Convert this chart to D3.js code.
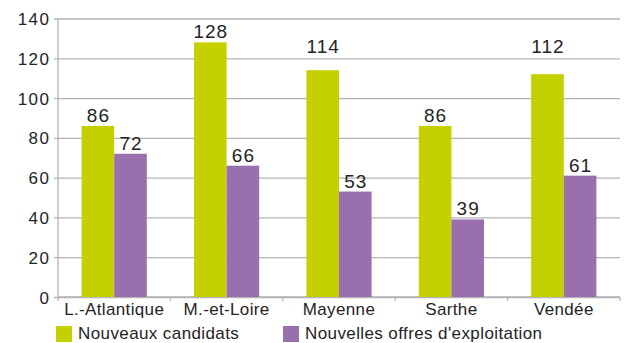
<!DOCTYPE html>
<html>
<head>
<meta charset="utf-8">
<script src="https://cdn.jsdelivr.net/npm/d3@7"></script>
<style>
  html, body { margin: 0; padding: 0; background: #fff; }
  svg { display: block; }
  text { font-family: "Liberation Sans", Arial, Helvetica, sans-serif; fill: #262324; }
</style>
</head>
<body>
<svg id="chart" width="625" height="343"></svg>
<script>
// Departments of the Pays de la Loire region
const categories = ["L.-Atlantique", "M.-et-Loire", "Mayenne", "Sarthe", "Vendée"];
const seriesNames = ["Nouveaux candidats", "Nouvelles offres d'exploitation"];
const nouveauxCandidats = [86, 128, 114, 86, 112];
const nouvellesOffres = [72, 66, 53, 39, 61];
const yTicks = [0, 20, 40, 60, 80, 100, 120, 140];

const colors = ["#c4d000", "#9870ae"];
const seriesValues = [nouveauxCandidats, nouvellesOffres];

// labels that are lifted clear of the 120 gridline
const raisedLabels = new Set(["Mayenne", "Vendée"]);

const x0 = 58, x1 = 620, yTop = 18.5, yBottom = 297;

const svg = d3.select("#chart");

const x = d3.scaleBand()
  .domain(categories)
  .range([x0, x1])
  .paddingInner(0.42)
  .paddingOuter(0.21);

const xs = d3.scaleBand()
  .domain(d3.range(seriesNames.length))
  .range([0, x.bandwidth()])
  .padding(0);

const y = d3.scaleLinear()
  .domain([0, 140])
  .range([yBottom, yTop]);

const gridColor = "#b4b4b4";

// horizontal gridlines with short ticks left of the axis
const yAxis = d3.axisLeft(y)
  .tickValues(yTicks)
  .tickSize(-(x1 - x0))
  .tickPadding(9)
  .tickFormat(d3.format("d"));

const gy = svg.append("g")
  .attr("transform", `translate(${x0},0)`)
  .call(yAxis);
gy.select(".domain").remove();
gy.selectAll(".tick line")
  .attr("x1", -4)
  .attr("stroke", gridColor)
  .attr("stroke-width", 1.3);
gy.selectAll(".tick text")
  .attr("x", -7.5)
  .style("font-size", "17px")
  .style("letter-spacing", "1.5px")
  .attr("dy", "0.36em");

// vertical axis line
svg.append("line")
  .attr("x1", x0).attr("x2", x0)
  .attr("y1", yTop).attr("y2", yBottom)
  .attr("stroke", gridColor)
  .attr("stroke-width", 1.3);

// category axis: ticks on band boundaries
const step = x.step();
const boundaries = d3.range(categories.length + 1).map(i => x0 + i * step);
svg.append("line")
  .attr("x1", x0).attr("x2", x1)
  .attr("y1", yBottom).attr("y2", yBottom)
  .attr("stroke", gridColor)
  .attr("stroke-width", 1.3);
svg.append("g").selectAll("line")
  .data(boundaries)
  .join("line")
  .attr("x1", d => d).attr("x2", d => d)
  .attr("y1", yBottom).attr("y2", yBottom + 4)
  .attr("stroke", gridColor)
  .attr("stroke-width", 1.3);

svg.append("g").selectAll("text")
  .data(categories)
  .join("text")
  .attr("x", d => x(d) + x.bandwidth() / 2)
  .attr("y", 315)
  .attr("text-anchor", "middle")
  .style("font-size", "17px")
  .style("letter-spacing", "0.35px")
  .text(d => d);

// bars
const groups = svg.append("g").selectAll("g")
  .data(categories)
  .join("g")
  .attr("transform", d => `translate(${x(d)},0)`);

groups.selectAll("rect")
  .data((c, i) => seriesValues.map((vals, s) => ({ c, s, v: vals[i] })))
  .join("rect")
  .attr("x", d => xs(d.s))
  .attr("width", xs.bandwidth())
  .attr("y", d => y(d.v))
  .attr("height", d => y(0) - y(d.v))
  .attr("fill", d => colors[d.s]);

// value labels
groups.selectAll("text")
  .data((c, i) => seriesValues.map((vals, s) => ({ c, s, v: vals[i] })))
  .join("text")
  .attr("x", d => xs(d.s) + xs.bandwidth() / 2 + 0.5)
  .attr("y", d => (d.s === 0 && raisedLabels.has(d.c)) ? y(120) - 5 : y(d.v) - 4)
  .attr("text-anchor", "middle")
  .style("font-size", "19px")
  .style("letter-spacing", "1px")
  .text(d => d.v);

// legend
const legendX = [56, 283];
const legend = svg.append("g").selectAll("g")
  .data(seriesNames)
  .join("g")
  .attr("transform", (d, i) => `translate(${legendX[i]},326)`);
legend.append("rect")
  .attr("width", 16).attr("height", 16)
  .attr("fill", (d, i) => colors[i]);
legend.append("text")
  .attr("x", 22)
  .attr("y", 13)
  .style("font-size", "17px")
  .style("letter-spacing", "0.4px")
  .text(d => d);
</script>
</body>
</html>
